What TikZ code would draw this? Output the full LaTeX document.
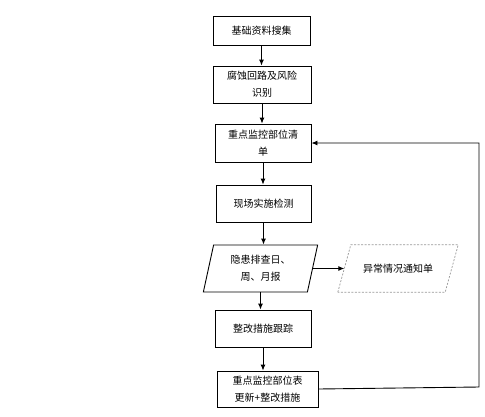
\documentclass[tikz,border=0pt]{standalone}
\usepackage{fontspec}
\setmainfont{Noto Sans CJK SC}
\usetikzlibrary{arrows.meta,shapes.geometric,calc}
\begin{document}
\begin{tikzpicture}[x=1pt,y=-1pt,
  font=\fontsize{10}{17}\selectfont,
  stepbox/.style={draw,line width=0.9pt,align=center,inner sep=0pt},
  para/.style={draw,line width=0.9pt,align=center,inner sep=0pt,trapezium,
    trapezium left angle=76,trapezium right angle=104,trapezium stretches=true},
  dashline/.style={draw=gray!80,line width=0.7pt,dash pattern=on 2pt off 1.5pt},
  arr/.style={line width=0.9pt,-{Latex[length=6pt,width=5pt]}}]
\useasboundingbox[fill=white] (0,0) rectangle (485,416);
\node[stepbox,minimum width=97pt,minimum height=29pt] (b1) at (261.5,30.5) {基础资料搜集};
\node[stepbox,minimum width=98pt,minimum height=37pt] (b2) at (262,84.5) {腐蚀回路及风险\\识别};
\node[stepbox,minimum width=96pt,minimum height=38pt] (b3) at (263,143) {重点监控部位清\\单};
\node[stepbox,minimum width=95pt,minimum height=37pt] (b4) at (263.5,203.5) {现场实施检测};
\node[para,minimum width=115pt,minimum height=47pt] (p) at (260.5,268.5) {隐患排查日、\\周、月报};
\node[align=center,inner sep=0pt,minimum width=120pt,minimum height=47pt] (d) at (398,268.5) {异常情况通知单};
\draw[dashline] (d.south west) -- ($(d.north west)+(13,0)$) -- (d.north east) -- ($(d.south east)+(-13,0)$) -- cycle;
\node[stepbox,minimum width=96pt,minimum height=37pt] (b6) at (263,328.5) {整改措施跟踪};
\node[stepbox,minimum width=101pt,minimum height=36pt] (b7) at (267.5,389) {重点监控部位表\\更新+整改措施};
\coordinate (f1) at (479,387);
\coordinate (f2) at (479,143);
\draw[arr] (b1.south) -- (b1.south |- b2.north);
\draw[arr] (b2.south) -- (b2.south |- b3.north);
\draw[arr] (b3.south) -- (b3.south |- b4.north);
\draw[arr] (b4.south) -- (b4.south |- p.north);
\draw[arr] (p.south) -- (p.south |- b6.north);
\draw[arr] (b6.south) -- (b6.south |- b7.north);
\draw[arr] (p.east) -- ($(d.west)+(6.5,0)$);
\draw[arr] (b7.east) -- (f1) -- (f2) -- (b3.east);
\end{tikzpicture}
\end{document}
